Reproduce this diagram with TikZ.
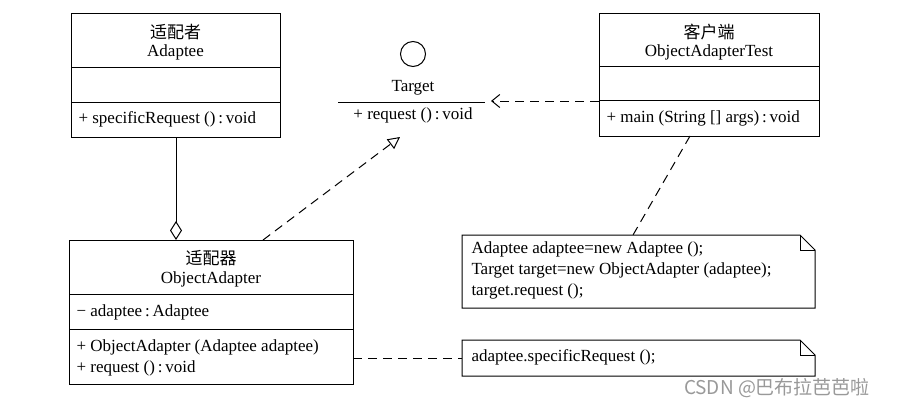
\documentclass[tikz,border=0pt]{standalone}
\usepackage{fontspec}
\setmainfont{Liberation Serif}
\newfontfamily\cjk{Noto Sans CJK SC}
\usetikzlibrary{arrows.meta}
\begin{document}
\begin{tikzpicture}[x=1pt,y=-1pt,line width=1pt,
  font=\fontsize{17}{21}\selectfont,
  box/.style={draw,anchor=north west,inner sep=0pt,outer sep=0pt},
  txt/.style={inner sep=0pt},
  ltxt/.style={inner sep=0pt,anchor=west},
  dep/.style={dash pattern=on 9pt off 6pt},
  wm/.style={inner sep=0pt,text=black!40,font=\cjk\fontsize{19}{19}\selectfont}]
\useasboundingbox[fill=white] (0,0) rectangle (901,405);

% Adaptee
\node[box,minimum width=209pt,minimum height=124pt] (adaptee) at (71,13) {};
\draw (71,67) -- (280,67) (71,102) -- (280,102);
\node[txt] (adapteeCn) at (175.5,32) {\cjk 适配者};
\node[txt] (adapteeEn) at (175.5,52) {Adaptee};
\node[ltxt] (adapteeM) at (78,119) {+ specificRequest ()\,:\,void};

% ObjectAdapter
\node[box,minimum width=284pt,minimum height=144pt] (oa) at (69,240) {};
\draw (69,294) -- (353,294) (69,329) -- (353,329);
\node[txt] (oaCn) at (211,258) {\cjk 适配器};
\node[txt] (oaEn) at (211,279) {ObjectAdapter};
\node[ltxt] (oaF) at (76,312) {− adaptee\,:\,Adaptee};
\node[ltxt,align=left] (oaM) at (76,357.5) {+ ObjectAdapter (Adaptee adaptee)\\+ request ()\,:\,void};

% Client
\node[box,minimum width=220pt,minimum height=123pt] (client) at (599,13) {};
\draw (599,66) -- (819,66) (599,100) -- (819,100);
\node[txt] (clientCn) at (709,32) {\cjk 客户端};
\node[txt] (clientEn) at (709,52) {ObjectAdapterTest};
\node[ltxt] (clientM) at (606,118) {+ main (String [] args)\,:\,void};

% Target interface
\node[draw,circle,minimum size=25pt,inner sep=0pt] (tcirc) at (413,54) {};
\node[txt] (tname) at (413,88) {Target};
\draw (338,102) -- (485,102);
\node[txt] (tm) at (413,115) {+ request ()\,:\,void};

% Notes
\draw (462,235) -- (800,235) -- (815,250) -- (815,308) -- (462,308) -- cycle;
\draw (800,235) -- (800,250) -- (815,250);
\node[ltxt,align=left] (note1) at (471,270) {Adaptee adaptee=new Adaptee ();\\Target target=new ObjectAdapter (adaptee);\\target.request ();};
\draw (462,340) -- (800,340) -- (815,355) -- (815,376) -- (462,376) -- cycle;
\draw (800,340) -- (800,355) -- (815,355);
\node[ltxt] (note2) at (471,357) {adaptee.specificRequest ();};

% connectors
\coordinate (aggS) at (176,137);
\coordinate (aggE) at (176,240);
\draw[-{Diamond[open,length=19pt,width=12pt]}] (aggS) -- (aggE);
\coordinate (realS) at (263,240);
\coordinate (realE) at (400,137);
\draw[dep,-{Triangle[open,length=12pt,width=12pt]}] (realS) -- (realE);
\coordinate (useS) at (599,101);
\coordinate (useE) at (491,101);
\draw[dep,-{Straight Barb[length=8pt,width=13pt]}] (useS) -- (useE);
\coordinate (n1S) at (690,136);
\coordinate (n1E) at (633,235);
\draw[dep] (n1S) -- (n1E);
\coordinate (n2S) at (353,358);
\coordinate (n2E) at (462,358);
\draw[dep] (n2S) -- (n2E);

% watermark
\node[wm] (wm) at (777,388) {CSDN @巴布拉芭芭啦};
\end{tikzpicture}
\end{document}
